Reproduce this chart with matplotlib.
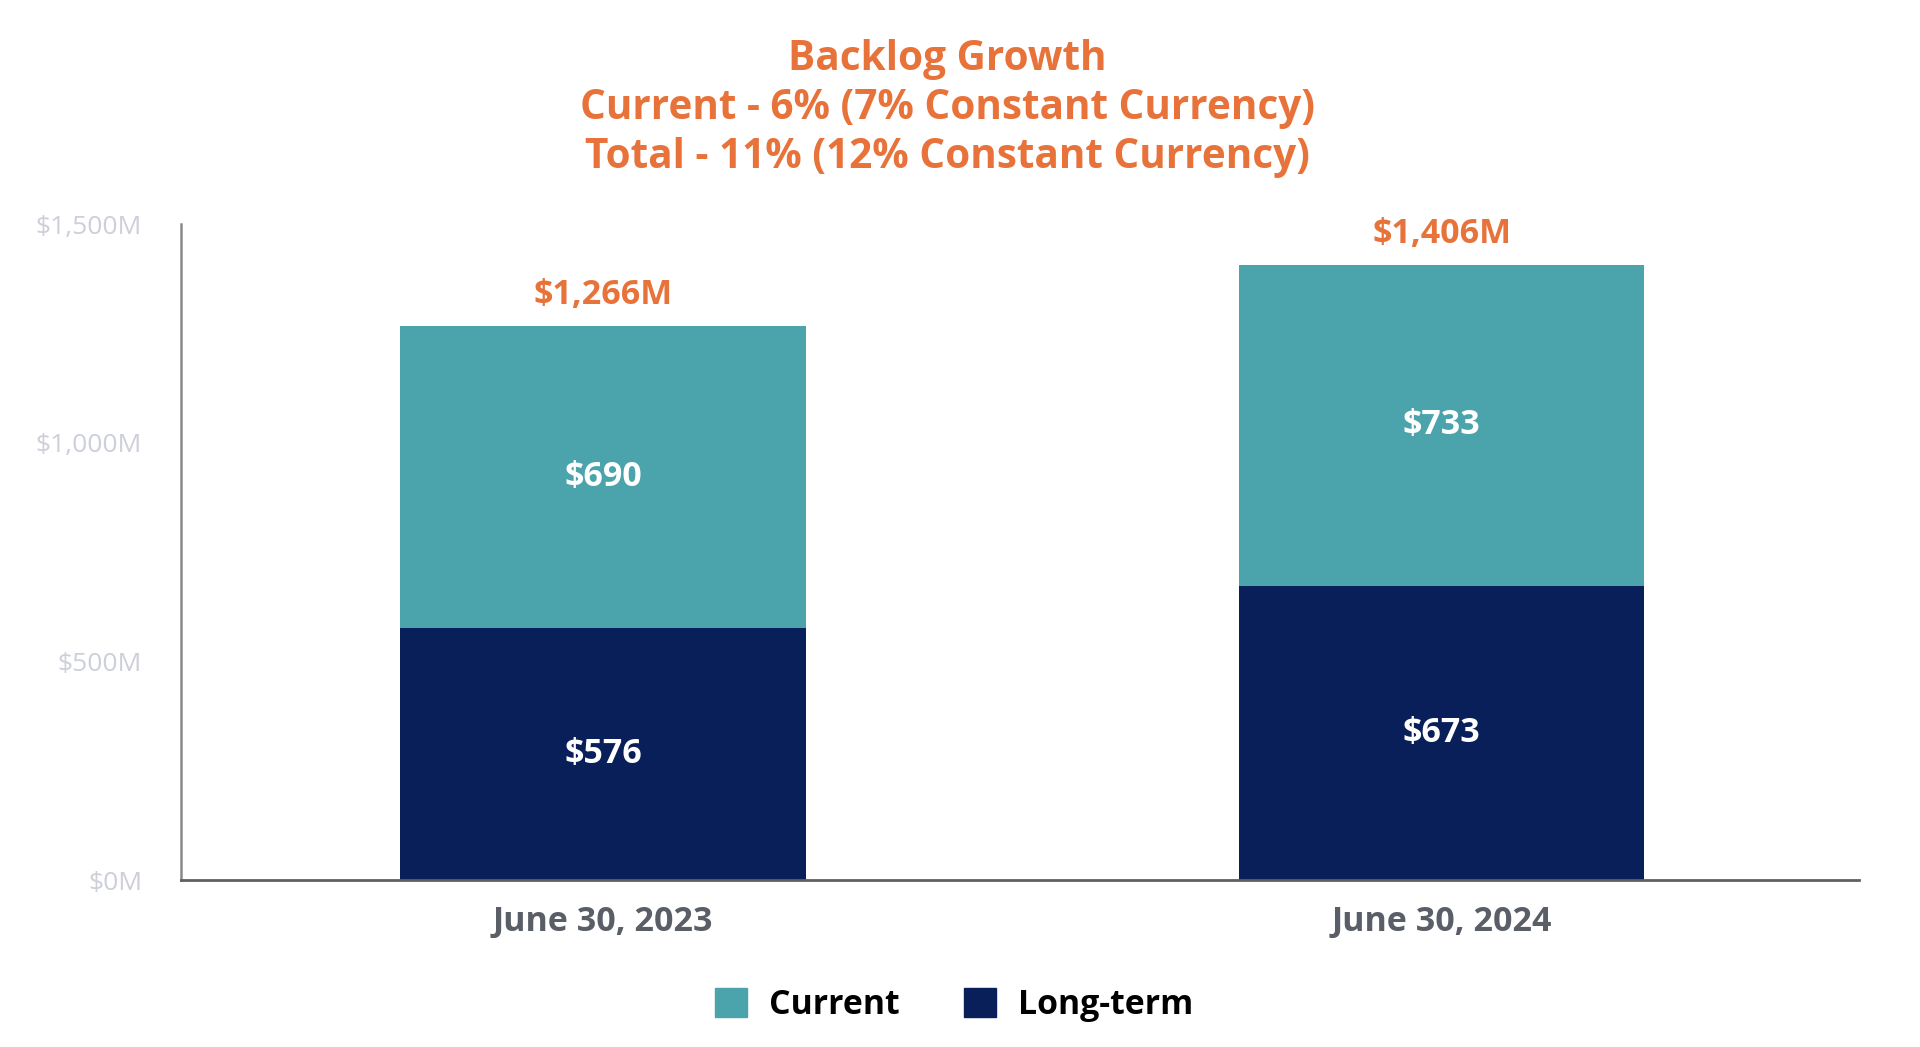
import numpy as np
import matplotlib
matplotlib.use('Agg')
from matplotlib import pyplot as plt
from matplotlib.patches import Patch

# data
periods = ['June 30, 2023', 'June 30, 2024']
long_term = [576, 673]
current = [690, 733]
totals = [1266, 1406]
yticks = [0, 500, 1000, 1500]
title_lines = ['Backlog Growth',
               'Current - 6% (7% Constant Currency)',
               'Total - 11% (12% Constant Currency)']

ORANGE = '#E8733A'
TEAL = '#4BA3AB'
NAVY = '#081F59'

plt.rcParams['font.family'] = ['Open Sans', 'DejaVu Sans']

fig = plt.figure(figsize=(19.2, 10.47), dpi=100)
ax = fig.add_axes([0.0943, 0.1595, 0.8737, 0.6265])

x = np.arange(len(periods))
w = 0.483
ax.bar(x, long_term, w, color=NAVY, label='Long-term')
ax.bar(x, current, w, bottom=long_term, color=TEAL, label='Current')

for i in range(len(x)):
  ax.text(x[i], long_term[i] / 2, '$%d' % long_term[i], ha='center', va='center',
          color='white', fontsize=24.5, fontweight='bold')
  ax.text(x[i], long_term[i] + current[i] / 2, '$%d' % current[i], ha='center', va='center',
          color='white', fontsize=24.5, fontweight='bold')
  ax.annotate('${:,}M'.format(totals[i]), (x[i], totals[i]), xytext=(0, 22.5),
              textcoords='offset points', ha='center', va='center',
              color=ORANGE, fontsize=24.5, fontweight='bold')

ax.set_xlim(-0.503, 1.497)
ax.set_ylim(0, 1500)
ax.set_yticks(yticks)
ax.set_yticklabels(['${:,}M'.format(v) for v in yticks], color='#CDCFD9', fontsize=19)
ax.set_xticks(x)
ax.set_xticklabels(periods, color='#5A5E66', fontsize=24.5, fontweight='bold')
ax.tick_params(axis='y', length=0, pad=28)
ax.tick_params(axis='x', length=0, pad=18)

for s in ['top', 'right']:
  ax.spines[s].set_visible(False)
ax.spines['left'].set_color('#8A8A8A')
ax.spines['left'].set_linewidth(1.8)
ax.spines['bottom'].set_color('#606060')
ax.spines['bottom'].set_linewidth(2)

fig.text(0.4936, 0.896, '\n'.join(title_lines), ha='center', va='center',
         color=ORANGE, fontsize=29.2, fontweight='bold', linespacing=1.26)

handles = [Patch(color=TEAL, label='Current'), Patch(color=NAVY, label='Long-term')]
fig.legend(handles=handles, loc='center', bbox_to_anchor=(0.497, 0.04), ncol=2,
           frameon=False, prop={'size': 24.4, 'weight': 'bold'},
           handlelength=0.95, handleheight=0.95, columnspacing=1.9, handletextpad=0.65)

fig.savefig('out.png', dpi=100, facecolor='white')
